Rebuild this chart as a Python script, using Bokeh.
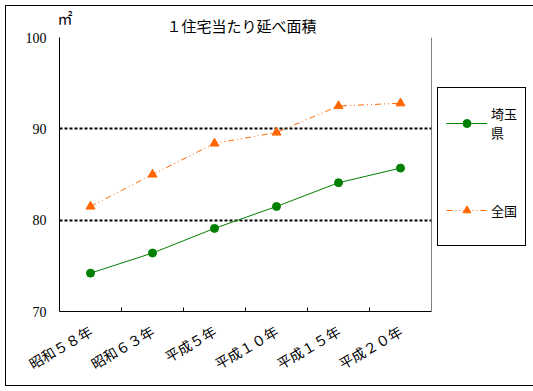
import math
from bokeh.plotting import figure
from bokeh.models import Range1d, FixedTicker, Legend, LegendItem, Title, Span
from bokeh.embed import file_html
from bokeh.resources import INLINE

categories = ["昭和５８年", "昭和６３年", "平成５年", "平成１０年", "平成１５年", "平成２０年"]
saitama = [74.2, 76.4, 79.1, 81.5, 84.1, 85.7]
zenkoku = [81.5, 85.0, 88.4, 89.6, 92.5, 92.8]
y_ticks = [70, 80, 90, 100]
series_names = ["埼玉\n県", "全国"]
title_text = "１住宅当たり延べ面積"
unit_text = "㎡"

n = len(categories)
xs = [i + 0.5 for i in range(n)]

GOTHIC = "Noto Sans CJK JP"
SERIF = "Liberation Serif"

p = figure(frame_width=372, frame_height=274, output_backend="svg", toolbar_location=None,
           x_range=Range1d(0, n), y_range=Range1d(y_ticks[0], y_ticks[-1]),
           min_border_left=53, min_border_top=31, min_border_right=96, min_border_bottom=74,
           outline_line_color=None, background_fill_color="white", border_fill_color="white")
p.styles = {"outline": "1px solid black", "position": "relative", "left": "6px", "top": "6px"}

# x axis
xa = p.xaxis[0]
xa.ticker = FixedTicker(ticks=xs, minor_ticks=list(range(1, n)))
xa.major_label_overrides = {x: c for x, c in zip(xs, categories)}
xa.major_label_orientation = math.pi / 6
xa.major_tick_in = 0
xa.major_tick_out = 0
xa.minor_tick_in = 4
xa.minor_tick_out = 0
xa.minor_tick_line_color = "black"
xa.axis_line_color = "black"
xa.major_label_text_font = GOTHIC
xa.major_label_text_font_size = "14px"
xa.major_label_text_color = "black"
xa.major_label_standoff = 18

# y axis
ya = p.yaxis[0]
ya.ticker = FixedTicker(ticks=y_ticks)
ya.major_tick_in = 0
ya.major_tick_out = 0
ya.minor_tick_line_color = None
ya.axis_line_color = "black"
ya.major_label_text_font = SERIF
ya.major_label_text_font_size = "14px"
ya.major_label_text_color = "black"
ya.major_label_standoff = 13

p.xgrid.visible = False
p.ygrid.ticker = FixedTicker(ticks=y_ticks[1:])
p.ygrid.grid_line_color = "black"
p.ygrid.grid_line_dash = "3 2"
p.ygrid.grid_line_width = 2

p.add_layout(Span(location=n, dimension="height", line_color="black", line_width=1))

l1 = p.line(xs, saitama, line_color="#008000", line_width=1)
m1 = p.scatter(xs, saitama, marker="circle", size=8, fill_color="#008000", line_color="#008000")
l2 = p.line(xs, zenkoku, line_color="#FF6600", line_width=1, line_dash="6 3 1 3 1 3")
m2 = p.scatter(xs, zenkoku, marker="triangle", size=9, fill_color="#FF6600", line_color="#FF6600")

legend = Legend(items=[LegendItem(label=series_names[0], renderers=[l1, m1]),
                       LegendItem(label=series_names[1], renderers=[l2, m2])],
                location=(6, 65), orientation="vertical",
                border_line_color="black", border_line_width=1, border_line_alpha=1,
                background_fill_color="white", background_fill_alpha=1,
                label_text_font=GOTHIC, label_text_font_size="13px", label_text_color="black",
                glyph_width=41, glyph_height=20, label_height=54, label_standoff=4, padding=8,
                label_width=26, spacing=33, margin=0)
p.add_layout(legend, "right")

p.add_layout(Title(text=title_text, align="left", text_font=GOTHIC, text_font_size="15px",
                   text_font_style="normal", text_color="black", standoff=4, offset=107), "above")
p.add_layout(Title(text=unit_text, align="left", text_font=GOTHIC, text_font_size="15px",
                   text_font_style="normal", text_color="black", standoff=-35, offset=-2), "above")

open("out.html", "w").write(file_html(p, INLINE))
